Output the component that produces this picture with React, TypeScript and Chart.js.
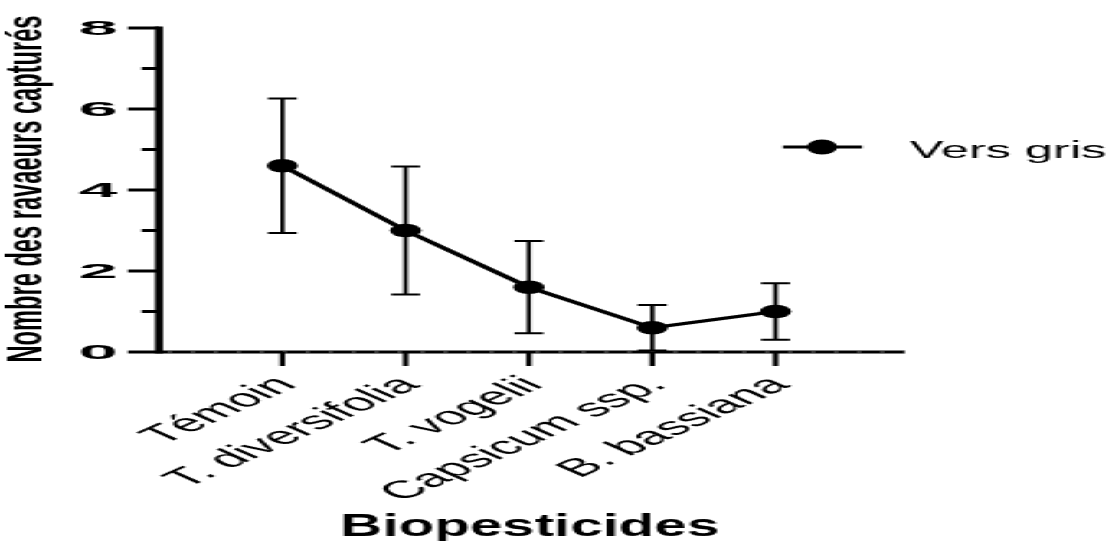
import { useEffect, useRef } from "react";
import { Chart, registerables } from "chart.js";

Chart.register(...registerables);

// ---- data ----
const categories = ["Témoin", "T. diversifolia", "T. vogelii", "Capsicum ssp.", "B. bassiana"];
const means = [4.6, 3.0, 1.6, 0.6, 1.0];
const errors = [1.66, 1.58, 1.14, 0.56, 0.7];
const yMajorTicks = [0, 2, 4, 6, 8];
const yMinorTicks = [1, 3, 5, 7];
const seriesName = "Vers gris";
const xTitle = "Biopesticides";
const yTitle = "Nombre des ravaeurs capturés";

// ---- layout (canvas is drawn narrow, then stretched horizontally like the reference) ----
const W = 484;
const H = 541;
const STRETCH = 1112 / W;
const FONT = "'Liberation Sans', Arial, sans-serif";

function fitText(ctx: CanvasRenderingContext2D, text: string, x: number, y: number, o: {
  font: string; align?: CanvasTextAlign; baseline?: CanvasTextBaseline; rotate?: number; sx?: number; sy?: number; width?: number;
}) {
  ctx.save();
  ctx.font = o.font;
  ctx.textAlign = o.align || "left";
  ctx.textBaseline = o.baseline || "alphabetic";
  ctx.fillStyle = "#000";
  ctx.translate(x, y);
  let sx = o.sx ?? 1;
  if (o.width) sx = o.width / ctx.measureText(text).width;
  ctx.scale(sx, o.sy ?? 1);
  if (o.rotate) ctx.rotate(o.rotate);
  ctx.fillText(text, 0, 0);
  ctx.restore();
}

const customPlugin = {
  id: "customDraw",
  beforeDatasetsDraw(chart: any) {
    const ctx: CanvasRenderingContext2D = chart.ctx;
    const xs = chart.scales.x;
    const ys = chart.scales.y;
    const left = chart.chartArea.left;
    const right = chart.chartArea.right;
    const y0 = ys.getPixelForValue(0);
    const yTop = ys.getPixelForValue(8);
    ctx.save();
    ctx.strokeStyle = "#000";
    ctx.lineCap = "butt";
    // y axis line
    ctx.lineWidth = 3.5;
    ctx.beginPath();
    ctx.moveTo(left, yTop - 1.5);
    ctx.lineTo(left, y0 + 1.5);
    ctx.stroke();
    // y ticks
    ctx.lineWidth = 3;
    yMajorTicks.forEach((v) => {
      const py = ys.getPixelForValue(v);
      ctx.beginPath();
      ctx.moveTo(left - 13.5, py);
      ctx.lineTo(left, py);
      ctx.stroke();
    });
    yMinorTicks.forEach((v) => {
      const py = ys.getPixelForValue(v);
      ctx.beginPath();
      ctx.moveTo(left - 7.5, py);
      ctx.lineTo(left, py);
      ctx.stroke();
    });
    // x axis line
    ctx.lineWidth = 3;
    ctx.beginPath();
    ctx.moveTo(left, y0);
    ctx.lineTo(right, y0);
    ctx.stroke();
    ctx.save();
    ctx.strokeStyle = "rgba(255,255,255,0.55)";
    ctx.lineWidth = 1;
    ctx.setLineDash([1.5, 8.5]);
    ctx.beginPath();
    ctx.moveTo(left + 4, y0);
    ctx.lineTo(right, y0);
    ctx.stroke();
    ctx.restore();
    // x ticks
    ctx.lineWidth = 2.3;
    categories.forEach((_, i) => {
      const px = xs.getPixelForValue(i);
      ctx.beginPath();
      ctx.moveTo(px, y0);
      ctx.lineTo(px, y0 + 14);
      ctx.stroke();
    });
    // error bars
    means.forEach((m, i) => {
      const px = xs.getPixelForValue(i);
      const top = ys.getPixelForValue(m + errors[i]);
      const bot = ys.getPixelForValue(Math.max(0, m - errors[i]));
      ctx.lineWidth = 1.8;
      ctx.beginPath();
      ctx.moveTo(px, top);
      ctx.lineTo(px, bot);
      ctx.stroke();
      ctx.lineWidth = 2;
      ctx.beginPath();
      ctx.moveTo(px - 6.3, top);
      ctx.lineTo(px + 6.3, top);
      ctx.moveTo(px - 6.3, bot);
      ctx.lineTo(px + 6.3, bot);
      ctx.stroke();
    });
    ctx.restore();
  },
  afterDraw(chart: any) {
    const ctx: CanvasRenderingContext2D = chart.ctx;
    const xs = chart.scales.x;
    const ys = chart.scales.y;
    const left = chart.chartArea.left;
    // y tick labels
    yMajorTicks.forEach((v) => {
      fitText(ctx, String(v), left - 18, ys.getPixelForValue(v) + 1, {
        font: `bold 21px ${FONT}`, align: "right", baseline: "middle", sx: 1.45,
      });
    });
    // x tick labels (rotated)
    categories.forEach((c, i) => {
      fitText(ctx, c, xs.getPixelForValue(i) + 7, 386, {
        font: `25px ${FONT}`, align: "right", baseline: "alphabetic", rotate: -Math.PI / 4,
      });
    });
    // y title (condensed)
    ctx.save();
    ctx.font = `bold 24px ${FONT}`;
    const tw = ctx.measureText(yTitle).width;
    ctx.restore();
    fitText(ctx, yTitle, 17.6, 189, {
      font: `bold 24px ${FONT}`, align: "center", baseline: "alphabetic",
      rotate: -Math.PI / 2, sx: 0.92, sy: 347 / tw,
    });
    // x title
    fitText(ctx, xTitle, (chart.chartArea.left + chart.chartArea.right) / 2 - 1, 536, {
      font: `bold 31px ${FONT}`, align: "center", baseline: "alphabetic", width: 165,
    });
    // legend
    ctx.save();
    ctx.strokeStyle = "#000";
    ctx.lineWidth = 3;
    ctx.beginPath();
    ctx.moveTo(340.8, 147);
    ctx.lineTo(375.2, 147);
    ctx.stroke();
    ctx.fillStyle = "#000";
    ctx.beginPath();
    ctx.ellipse(357.8, 147, 6.6, 7.4, 0, 0, Math.PI * 2);
    ctx.fill();
    ctx.restore();
    fitText(ctx, seriesName, 396, 158, { font: `23px ${FONT}`, align: "left", width: 85.5 });
  },
};

export default function App() {
  const ref = useRef<HTMLCanvasElement>(null);
  useEffect(() => {
    if (!ref.current) return;
    const chart = new Chart(ref.current, {
      type: "line",
      data: {
        datasets: [
          {
            label: seriesName,
            data: means.map((m, i) => ({ x: i, y: m })),
            borderColor: "#000",
            backgroundColor: "#000",
            borderWidth: 3.2,
            pointRadius: 6.8,
            pointHoverRadius: 6.8,
            pointBackgroundColor: "#000",
            pointBorderWidth: 0,
            tension: 0,
          },
        ],
      },
      options: {
        responsive: false,
        animation: false,
        events: [],
        layout: { padding: { left: 69.2, right: W - 393.9, top: 28, bottom: H - 352 } },
        plugins: { legend: { display: false }, tooltip: { enabled: false } },
        scales: {
          x: {
            type: "linear",
            min: -1,
            max: 5.05,
            grid: { display: false, drawTicks: false },
            border: { display: false },
            ticks: { display: false },
            afterBuildTicks: (s: any) => {
              s.ticks = categories.map((_, i) => ({ value: i }));
            },
          },
          y: {
            type: "linear",
            min: 0,
            max: 8,
            grid: { display: false, drawTicks: false },
            border: { display: false },
            ticks: { display: false },
          },
        },
      },
      plugins: [customPlugin],
    } as any);
    return () => chart.destroy();
  }, []);
  return (
    <div
      style={{
        position: "fixed",
        left: 0,
        top: 0,
        width: W,
        height: H,
        transform: `scaleX(${STRETCH})`,
        transformOrigin: "0 0",
        background: "#fff",
      }}
    >
      <canvas ref={ref} width={W} height={H} style={{ display: "block" }} />
    </div>
  );
}
